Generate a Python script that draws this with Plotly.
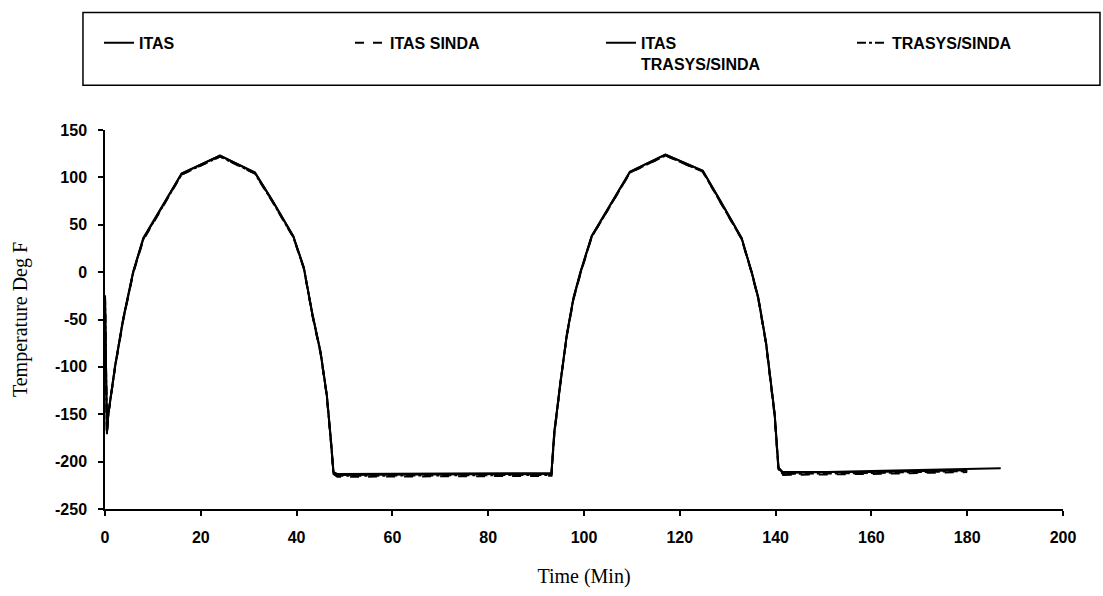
import plotly.graph_objects as go

# ---- data ----
t_itas = [0, 0.4, 0.7, 2.1, 3.8, 5.9, 8, 16, 24, 31.3, 35, 39.3, 41.5, 43.3, 45, 46.3, 47.2, 47.7, 48.5,
          93.2, 93.8, 95, 96.4, 97.8, 99.3, 101.6, 109.6, 117, 124.8, 128.5, 132.9, 135, 136.4, 138, 139.8,
          140.6, 141.5, 160, 180, 187]
temp_itas = [-25, -170, -150, -100, -50, 0, 35, 104, 123, 105, 75, 38, 5, -45, -85, -130, -180, -212, -214,
             -213, -170, -119, -67, -28, 0, 38, 106, 124, 107, 75, 36, 0, -28, -75, -150,
             -207, -212, -210, -208, -207]

t_itas_sinda = [0, 0.4, 0.7, 2.1, 3.8, 5.9, 8, 16, 24, 31.3, 35, 39.3, 41.5, 43.3, 45, 46.3, 47.2, 47.7, 48.5,
                93.2, 93.8, 95, 96.4, 97.8, 99.3, 101.6, 109.6, 117, 124.8, 128.5, 132.9, 135, 136.4, 138, 139.8,
                140.6, 141.5, 160, 180]
temp_itas_sinda = [-25, -172, -150, -101, -51, -1, 34, 103, 122, 104, 74, 37, 4, -46, -86, -131, -182, -213, -216,
                   -215, -172, -120, -68, -29, -1, 37, 105, 123, 106, 74, 35, -1, -29, -76, -152,
                   -209, -214, -213, -211]

t_itas_trasys = [0, 0.4, 0.7, 2.1, 3.8, 5.9, 8, 16, 24, 31.3, 35, 39.3, 41.5, 43.3, 45, 46.3, 47.2, 47.7, 48.5,
                 93.2, 93.8, 95, 96.4, 97.8, 99.3, 101.6, 109.6, 117, 124.8, 128.5, 132.9, 135, 136.4, 138, 139.8,
                 140.6, 141.5, 160, 180]
temp_itas_trasys = [-25, -168, -149, -99, -49, 1, 36, 104, 123, 105, 75, 38, 5, -44, -84, -129, -179, -211, -213,
                    -212, -168, -118, -66, -27, 1, 38, 106, 124, 107, 75, 36, 0, -27, -74, -149,
                    -206, -211, -211, -209]

t_trasys_sinda = [0, 0.4, 0.7, 2.1, 3.8, 5.9, 8, 16, 24, 31.3, 35, 39.3, 41.5, 43.3, 45, 46.3, 47.2, 47.7, 48.5,
                  93.2, 93.8, 95, 96.4, 97.8, 99.3, 101.6, 109.6, 117, 124.8, 128.5, 132.9, 135, 136.4, 138, 139.8,
                  140.6, 141.5, 160, 180]
temp_trasys_sinda = [-25, -171, -150, -100, -50, 0, 35, 103, 122, 104, 74, 37, 4, -45, -85, -130, -181, -213, -215,
                     -214, -171, -119, -67, -28, 0, 37, 105, 123, 106, 74, 35, 0, -28, -75, -151,
                     -208, -213, -212, -210]

x_ticks = [0, 20, 40, 60, 80, 100, 120, 140, 160, 180, 200]
x_tick_labels = ["0", "20", "40", "60", "80", "100", "120", "140", "160", "180", "200"]
y_ticks = [-250, -200, -150, -100, -50, 0, 50, 100, 150]
y_tick_labels = ["-250", "-200", "-150", "-100", "-50", "0", "50", "100", "150"]

series = [
    ("ITAS", t_itas, temp_itas, "solid"),
    ("ITAS SINDA", t_itas_sinda, temp_itas_sinda, "dash"),
    ("ITAS<br>TRASYS/SINDA", t_itas_trasys, temp_itas_trasys, "solid"),
    ("TRASYS/SINDA", t_trasys_sinda, temp_trasys_sinda, "dashdot"),
]

fig = go.Figure()
for name, xs, ys, dash in series:
    fig.add_trace(go.Scatter(x=xs, y=ys, mode="lines", name=name,
                             line=dict(color="black", width=2, dash=dash)))

tickfont = dict(family="Liberation Sans", size=16, color="black", weight="bold")
titlefont = dict(family="Liberation Serif", size=20, color="black")

fig.update_layout(
    width=1103, height=596,
    margin=dict(l=105, r=40, t=130, b=85),
    paper_bgcolor="white", plot_bgcolor="white",
    showlegend=True,
    legend=dict(orientation="h", x=-0.0001, y=1.275, xanchor="left", yanchor="top",
                entrywidth=206, entrywidthmode="pixels", valign="top",
                font=dict(family="Liberation Sans", size=16, color="black", weight="bold"),
                bgcolor="rgba(0,0,0,0)", tracegroupgap=0),
    shapes=[dict(type="rect", xref="paper", yref="paper",
                 x0=-0.023, x1=1.0386, y0=1.118, y1=1.31,
                 line=dict(color="black", width=1.5))],
)

fig.update_xaxes(range=[0, 200], tickvals=x_ticks, ticktext=x_tick_labels,
                 showgrid=False, zeroline=False, showline=True, linecolor="black", linewidth=1.5,
                 ticks="outside", ticklen=5, tickcolor="black", tickwidth=1.5,
                 tickfont=tickfont, ticklabelstandoff=8,
                 title=dict(text="Time (Min)", font=titlefont, standoff=24))
fig.update_yaxes(range=[-250, 150], tickvals=y_ticks, ticktext=y_tick_labels,
                 showgrid=False, zeroline=False, showline=True, linecolor="black", linewidth=1.5,
                 ticks="outside", ticklen=5, tickcolor="black", tickwidth=1.5,
                 tickfont=tickfont, ticklabelstandoff=8,
                 title=dict(text="Temperature Deg F", font=titlefont, standoff=22))

fig.write_html("out.html")
